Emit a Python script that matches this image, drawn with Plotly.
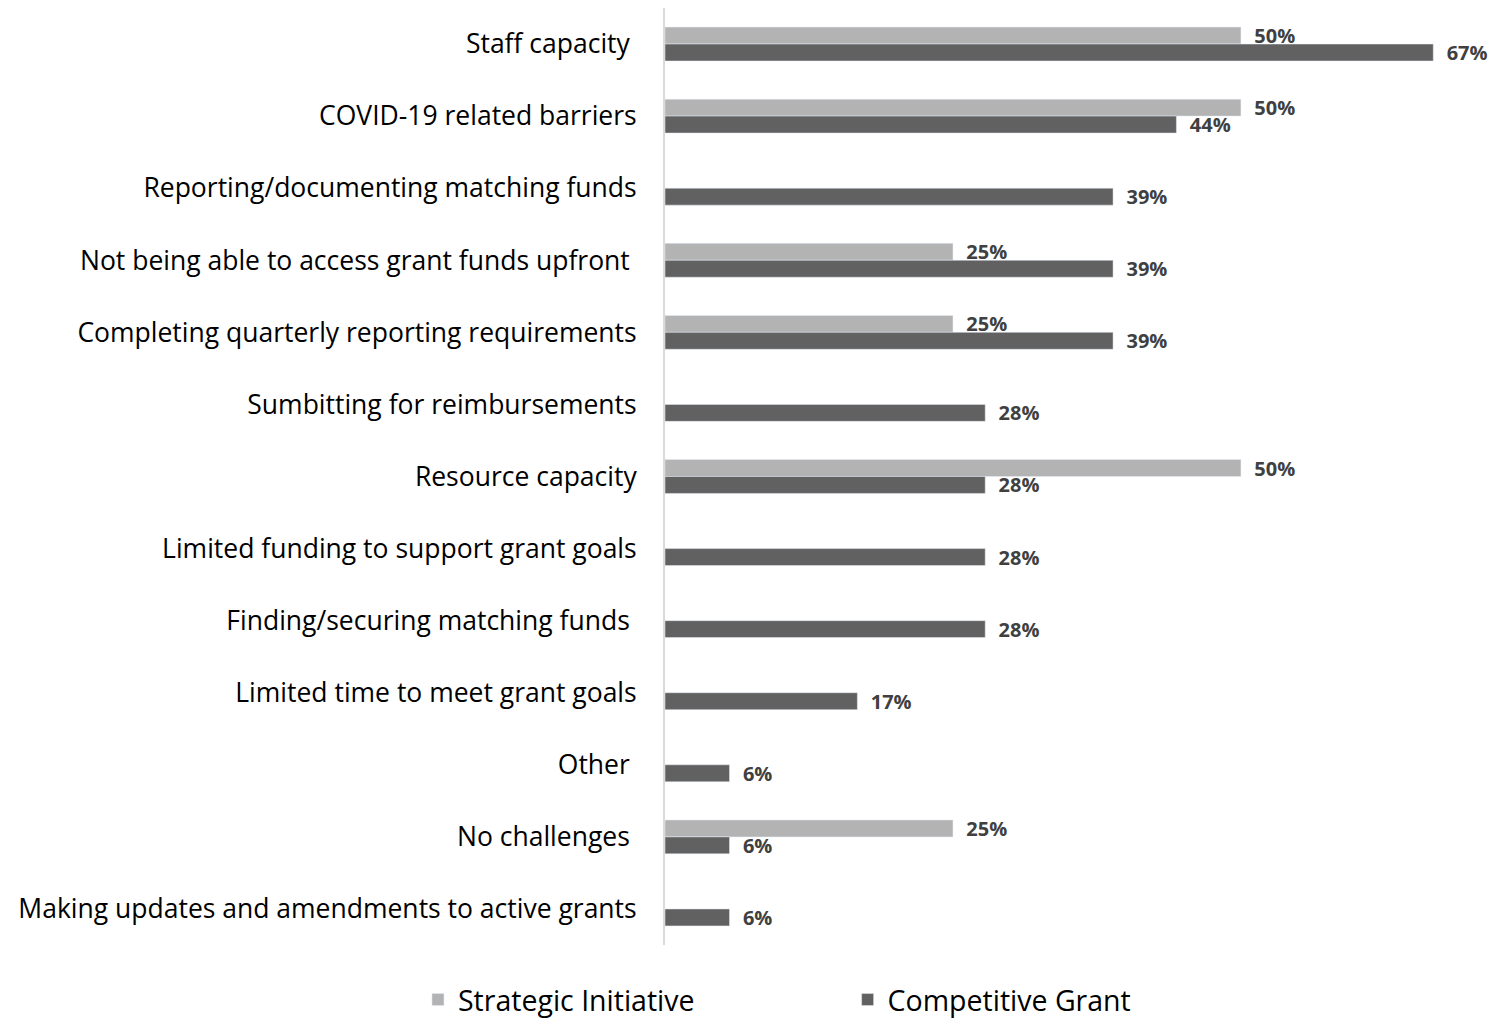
import plotly.graph_objects as go

categories = [
    "Staff capacity ",
    "COVID-19 related barriers",
    "Reporting/documenting matching funds",
    "Not being able to access grant funds upfront ",
    "Completing quarterly reporting requirements",
    "Sumbitting for reimbursements",
    "Resource capacity",
    "Limited funding to support grant goals",
    "Finding/securing matching funds ",
    "Limited time to meet grant goals",
    "Other ",
    "No challenges ",
    "Making updates and amendments to active grants",
]
strategic_initiative = [50, 50, None, 25, 25, None, 50, None, None, None, None, 25, None]
competitive_grant = [66.7, 44.4, 38.9, 38.9, 38.9, 27.8, 27.8, 27.8, 27.8, 16.7, 5.6, 5.6, 5.6]
series_names = ["Strategic Initiative", "Competitive Grant"]

FONT = "Open Sans"
LABEL_COLOR = "#404040"
PAD = "\u00a0" * 20

fig = go.Figure()
fig.add_trace(go.Bar(
    y=categories, x=strategic_initiative, orientation="h",
    name=series_names[0] + PAD, marker=dict(color="#b3b3b3"),
    texttemplate="\u00a0\u00a0<b>%{x:.0f}%</b>", textposition="outside",
    textfont=dict(family=FONT, size=20, color=LABEL_COLOR),
    constraintext="none", cliponaxis=False,
))
fig.add_trace(go.Bar(
    y=categories, x=competitive_grant, orientation="h",
    name=series_names[1], marker=dict(color="#616161"),
    texttemplate="\u00a0\u00a0<b>%{x:.0f}%</b>", textposition="outside",
    textfont=dict(family=FONT, size=20, color=LABEL_COLOR),
    constraintext="none", cliponaxis=False,
))

fig.update_layout(
    width=1499, height=1018,
    barmode="group", bargap=0.53, bargroupgap=0,
    plot_bgcolor="white", paper_bgcolor="white",
    margin=dict(l=657, r=0, t=0, b=81),
    font=dict(family=FONT, color="#000000"),
    showlegend=True,
    legend=dict(
        orientation="h", xref="container", yref="container",
        x=0.2735, xanchor="left", y=0.0255, yanchor="middle",
        font=dict(family=FONT, size=28.5, color="#000000"),
        traceorder="normal",
    ),
)
fig.update_xaxes(range=[0, 73.1], visible=False, showgrid=False, zeroline=False)
fig.update_yaxes(
    autorange="reversed", showgrid=False, zeroline=False,
    showline=True, linecolor="#d9d9d9", linewidth=2,
    tickfont=dict(family=FONT, size=26.5, color="#000000"),
    ticks="", ticklabelstandoff=21,
)

fig.write_html("out.html")
